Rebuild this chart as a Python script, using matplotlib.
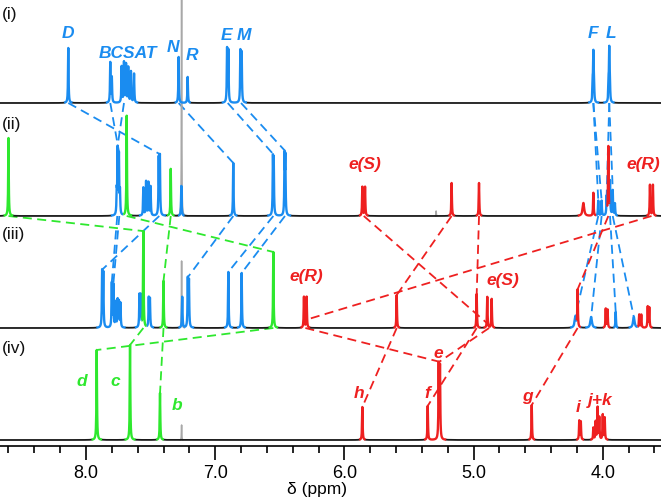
import numpy as np
import matplotlib.pyplot as plt
from matplotlib.ticker import MultipleLocator

plt.rcParams['font.family'] = ['Liberation Sans', 'DejaVu Sans']

BLUE = '#1a8cf0'
GREEN = '#2ee82e'
RED = '#ee2020'
GRAY = '#a8a8a8'
COLORS = {'b': BLUE, 'g': GREEN, 'r': RED}

# peaks: (ppm, intensity, colour)
peaks_i = [
    (8.137, 55, 'b'),
    (7.812, 40, 'b'), (7.800, 25, 'b'),
    (7.724, 36, 'b'), (7.706, 40, 'b'), (7.690, 38, 'b'),
    (7.673, 35, 'b'), (7.652, 31, 'b'), (7.628, 29, 'b'),
    (7.283, 46, 'b'), (7.213, 26, 'b'),
    (6.908, 53, 'b'), (6.898, 51, 'b'),
    (6.805, 51, 'b'), (6.795, 49, 'b'),
    (4.073, 46, 'b'), (4.078, 18, 'b'), (4.068, 18, 'b'),
    (3.950, 50, 'b'), (3.955, 18, 'b'), (3.945, 18, 'b'),
]
peaks_ii = [
    (8.600, 78, 'g'),
    (7.762, 22, 'b'), (7.755, 64, 'b'), (7.745, 58, 'b'), (7.737, 22, 'b'),
    (7.685, 100, 'g'),
    (7.556, 28, 'b'), (7.535, 34, 'b'), (7.517, 33, 'b'), (7.500, 29, 'b'),
    (7.437, 56, 'b'), (7.428, 58, 'b'),
    (7.344, 47, 'g'),
    (7.262, 30, 'b'),
    (6.860, 53, 'b'),
    (6.553, 54, 'b'), (6.547, 52, 'b'),
    (6.463, 57, 'b'), (6.457, 55, 'b'),
    (5.861, 29, 'r'), (5.840, 29, 'r'),
    (5.170, 33, 'r'),
    (4.958, 33, 'r'),
    (4.073, 23, 'r'),
    (4.035, 15, 'b'), (4.009, 15, 'b'), (3.970, 18, 'b'),
    (3.944, 33, 'b'), (3.923, 25, 'b'), (3.906, 12, 'b'),
    (3.957, 68, 'r'),
    (3.635, 31, 'r'), (3.612, 31, 'r'),
]
broad_ii = [(4.150, 13, 'r')]
peaks_iii = [
    (7.875, 55, 'b'), (7.866, 53, 'b'),
    (7.800, 44, 'b'), (7.788, 42, 'b'), (7.770, 25, 'b'),
    (7.755, 27, 'b'), (7.745, 25, 'b'), (7.733, 24, 'b'),
    (7.586, 32, 'b'), (7.576, 31, 'b'),
    (7.556, 96, 'g'),
    (7.514, 29, 'b'), (7.505, 28, 'b'),
    (7.400, 47, 'g'),
    (7.255, 31, 'b'),
    (7.212, 48, 'b'), (7.203, 46, 'b'),
    (6.898, 56, 'b'),
    (6.795, 55, 'b'),
    (6.550, 76, 'g'),
    (6.313, 31, 'r'), (6.292, 31, 'r'),
    (5.595, 33, 'r'),
    (4.976, 34, 'r'),
    (4.894, 31, 'r'), (4.860, 29, 'r'),
    (4.195, 37, 'r'),
    (3.977, 19, 'r'), (3.963, 18, 'r'),
    (3.900, 16, 'b'),
    (3.718, 13, 'r'), (3.702, 13, 'r'),
    (3.652, 21, 'r'), (3.640, 20, 'r'),
]
broad_iii = [(4.212, 11, 'b'), (4.090, 11, 'b'), (3.760, 11, 'b')]
peaks_iv = [
    (7.917, 90, 'g'),
    (7.659, 95, 'g'),
    (7.427, 47, 'g'),
    (5.861, 33, 'r'),
    (5.355, 34, 'r'),
    (5.270, 74, 'r'), (5.260, 72, 'r'),
    (4.550, 35, 'r'),
    (4.182, 19, 'r'), (4.170, 18, 'r'),
    (4.073, 12, 'r'), (4.055, 18, 'r'), (4.040, 32, 'r'), (4.027, 22, 'r'),
    (4.000, 25, 'r'), (3.985, 22, 'r'),
]

spectra = [peaks_i, peaks_ii, peaks_iii, peaks_iv]
broads = [[], broad_ii, broad_iii, []]
names = ['(i)', '(ii)', '(iii)', '(iv)']
# CHCl3 / residual lines (spectrum index, ppm, intensity)
solvent = [(1, 7.260, 260), (1, 5.290, 5), (2, 7.260, 67), (3, 7.260, 15)]

# assignment links between neighbouring spectra: (upper index, ppm above, ppm below, colour)
links = [
    (0, 8.137, 7.433, 'b'), (0, 7.812, 7.745, 'b'), (0, 7.706, 7.755, 'b'),
    (0, 7.283, 6.860, 'b'), (0, 6.903, 6.550, 'b'), (0, 6.800, 6.460, 'b'),
    (0, 4.073, 4.035, 'b'), (0, 4.073, 4.009, 'b'),
    (0, 3.950, 3.970, 'b'), (0, 3.950, 3.923, 'b'),
    (1, 7.758, 7.800, 'b'), (1, 7.742, 7.788, 'b'), (1, 7.433, 7.870, 'b'),
    (1, 6.860, 7.208, 'b'), (1, 6.550, 6.898, 'b'), (1, 6.460, 6.795, 'b'),
    (1, 4.035, 4.212, 'b'), (1, 4.009, 4.090, 'b'),
    (1, 3.944, 3.900, 'b'), (1, 3.923, 3.760, 'b'),
    (1, 8.600, 7.556, 'g'), (1, 7.685, 6.550, 'g'), (1, 7.344, 7.400, 'g'),
    (1, 5.850, 4.880, 'r'), (1, 5.170, 5.595, 'r'), (1, 4.958, 4.976, 'r'),
    (1, 3.623, 6.302, 'r'), (1, 3.957, 4.195, 'r'),
    (2, 6.550, 7.917, 'g'), (2, 7.556, 7.659, 'g'), (2, 7.400, 7.427, 'g'),
    (2, 6.302, 5.265, 'r'), (2, 4.880, 5.265, 'r'), (2, 5.595, 5.861, 'r'),
    (2, 4.976, 5.355, 'r'), (2, 4.195, 4.550, 'r'),
]

# labels: (text, ppm, height, colour)
labels = [
    ('D', 8.139, 413, 'b'), ('BCSAT', 7.675, 393, 'b'), ('N', 7.327, 399, 'b'),
    ('R', 7.180, 391, 'b'), ('E', 6.909, 411, 'b'), ('M', 6.777, 410, 'b'),
    ('F', 4.076, 413, 'b'), ('L', 3.937, 413, 'b'),
    ('e(S)', 5.840, 281, 'r'), ('e(R)', 3.690, 281, 'r'),
    ('e(R)', 6.297, 170, 'r'), ('e(S)', 4.773, 166, 'r'),
    ('d', 8.031, 64, 'g'), ('c', 7.776, 64, 'g'), ('b', 7.296, 41, 'g'),
    ('h', 5.887, 53, 'r'), ('f', 5.361, 53, 'r'), ('e', 5.276, 93, 'r'),
    ('g', 4.587, 49, 'r'), ('i', 4.192, 38, 'r'), ('j+k', 4.020, 46, 'r'),
]

baselines = [343, 230, 118, 6]
name_y = [431, 322, 211, 98]

x = np.linspace(3.50, 8.70, 10401)
GAM = 0.0025
GAM_BROAD = 0.007


def lorentz(x0, h, g):
    return h * g ** 2 / ((x - x0) ** 2 + g ** 2)


def components(peaks, broad):
    comp = {c: np.zeros_like(x) for c in COLORS}
    for p, h, c in peaks:
        comp[c] += lorentz(p, h, GAM)
    for p, h, c in broad:
        comp[c] += lorentz(p, h, GAM_BROAD)
    return comp


def dilate(m):
    out = m.copy()
    out[1:] |= m[:-1]
    out[:-1] |= m[1:]
    return out


fig = plt.figure(figsize=(6.61, 4.99), dpi=100)
ax = fig.add_axes([0, 1 - 446 / 499, 1, 446 / 499])

totals = []
for k, (peaks, broad) in enumerate(zip(spectra, broads)):
    comp = components(peaks, broad)
    total = sum(comp.values())
    totals.append(total)
    base = baselines[k]
    stack = np.vstack([comp[c] for c in COLORS])
    dom = np.argmax(stack, axis=0)
    anycol = np.zeros_like(x, dtype=bool)
    for j, c in enumerate(COLORS):
        m = (dom == j) & (comp[c] > 0.35)
        anycol |= m
        ax.plot(x, np.where(dilate(m), base + total, np.nan), color=COLORS[c],
                lw=1.7, zorder=4, solid_capstyle='butt')
    black = ~anycol
    ax.plot(x, np.where(dilate(black), base + total, np.nan), color='#1a1a1a',
            lw=1.3, zorder=3)
    ax.text(0.003, name_y[k], names[k], fontsize=12.5, ha='left', va='center',
            color='#111111', zorder=6,
            transform=ax.get_yaxis_transform())

for k, p, h in solvent:
    g = lorentz(p, h, 0.0015)
    m = g > 0.3
    ax.plot(x, np.where(m, baselines[k] + g, np.nan), color=GRAY, lw=1.1, zorder=2)

for k, p_up, p_low, c in links:
    win = np.abs(x - p_low) < 0.006
    top = baselines[k + 1] + totals[k + 1][win].max()
    ax.plot([p_up, p_low], [baselines[k], top], color=COLORS[c], lw=1.3,
            ls=(0, (5, 3)), zorder=1)

for txt, p, yy, c in labels:
    ax.text(p, yy, txt, color=COLORS[c], fontsize=12.5, fontweight='bold',
            fontstyle='italic', ha='center', va='center', zorder=6)

ax.set_xlim(8.6656, 3.5495)
ax.set_ylim(0, 446)
for s in ['left', 'right', 'top']:
    ax.spines[s].set_visible(False)
ax.spines['bottom'].set_linewidth(1.2)
ax.set_yticks([])
ax.xaxis.set_major_locator(MultipleLocator(1.0))
ax.xaxis.set_minor_locator(MultipleLocator(0.2))
ax.xaxis.set_major_formatter(plt.FormatStrFormatter('%.1f'))
ax.tick_params(axis='x', which='major', length=10, width=1.2, labelsize=13, pad=4)
ax.tick_params(axis='x', which='minor', length=5, width=1.2)
fig.text(0.48, 9.5 / 499, 'δ (ppm)', fontsize=12.5, ha='center', va='center')
ax.patch.set_alpha(0)

fig.savefig('out.png', dpi=100)
